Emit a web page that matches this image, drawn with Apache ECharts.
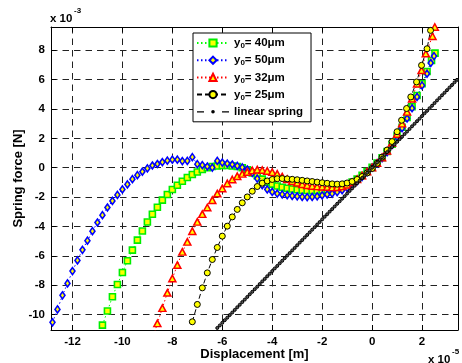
<!DOCTYPE html>
<html>
<head>
<meta charset="utf-8">
<script src="https://cdn.jsdelivr.net/npm/echarts@6/dist/echarts.min.js"></script>
<style>
  html, body { margin: 0; padding: 0; background: #fff; overflow: hidden; }
  #chart { width: 462px; height: 363px; }
</style>
</head>
<body>
<div id="chart"></div>
<script>
// Displacement is given in units of 1e-5 m, spring force in units of 1e-3 N.
const legendNames = ['y0= 40μm', 'y0= 50μm', 'y0= 32μm', 'y0= 25μm', 'linear spring'];

// [displacement, force] samples for each gap y0
const gap40 = [
  [-10.8,-10.72],[-10.6,-9.76],[-10.4,-8.79],[-10.2,-7.95],[-10.0,-7.13],[-9.8,-6.34],[-9.6,-5.61],
  [-9.4,-4.93],[-9.2,-4.31],[-9.0,-3.70],[-8.8,-3.17],[-8.6,-2.69],[-8.4,-2.21],[-8.2,-1.82],
  [-8.0,-1.48],[-7.8,-1.19],[-7.6,-0.92],[-7.4,-0.67],[-7.2,-0.46],[-7.0,-0.29],[-6.8,-0.12],
  [-6.6,0.0],[-6.4,0.08],[-6.2,0.12],[-6.0,0.15],[-5.8,0.15],[-5.6,0.12],[-5.4,0.08],[-5.2,0.0],
  [-5.0,-0.15],[-4.8,-0.35],[-4.6,-0.55],[-4.4,-0.78],[-4.2,-0.98],[-4.0,-1.12],[-3.8,-1.25],
  [-3.6,-1.33],[-3.4,-1.40],[-3.2,-1.45],[-3.0,-1.50],[-2.8,-1.53],[-2.6,-1.55],[-2.4,-1.56],
  [-2.2,-1.55],[-2.0,-1.53],[-1.8,-1.50],[-1.6,-1.45],[-1.4,-1.38],[-1.2,-1.28],[-1.0,-1.15],
  [-0.8,-0.98],[-0.6,-0.77],[-0.4,-0.52],[-0.2,-0.26],[0.0,0.02],[0.2,0.32],[0.4,0.68],[0.6,1.10],
  [0.8,1.60],[1.0,2.15],[1.2,2.75],[1.4,3.42],[1.6,4.15],[1.8,4.92],[2.0,5.72],[2.2,6.55],
  [2.38,7.30],[2.52,7.80]
];

const gap50 = [
  [-12.8,-10.53],[-12.6,-9.65],[-12.4,-8.69],[-12.2,-7.88],[-12.0,-7.04],[-11.8,-6.31],[-11.6,-5.59],
  [-11.4,-4.97],[-11.2,-4.32],[-11.0,-3.73],[-10.8,-3.23],[-10.6,-2.71],[-10.4,-2.26],[-10.2,-1.85],
  [-10.0,-1.48],[-9.8,-1.14],[-9.6,-0.78],[-9.4,-0.51],[-9.2,-0.27],[-9.0,-0.05],[-8.8,0.15],
  [-8.6,0.25],[-8.4,0.38],[-8.2,0.48],[-8.0,0.55],[-7.8,0.55],[-7.6,0.45],[-7.4,0.46],[-7.2,0.72],
  [-7.0,0.24],[-6.8,0.18],[-6.6,0.08],[-6.4,0.01],[-6.2,0.46],[-6.0,0.35],[-5.8,0.28],[-5.6,0.22],
  [-5.4,0.12],[-5.2,0.02],[-5.0,-0.12],[-4.8,-0.35],[-4.6,-0.74],[-4.4,-1.19],[-4.2,-1.48],
  [-4.0,-1.65],[-3.8,-1.76],[-3.6,-1.82],[-3.4,-1.87],[-3.2,-1.92],[-3.0,-1.95],[-2.8,-1.99],
  [-2.6,-2.00],[-2.4,-1.99],[-2.2,-1.95],[-2.0,-1.88],[-1.8,-1.82],[-1.6,-1.76],[-1.4,-1.66],
  [-1.2,-1.53],[-1.0,-1.38],[-0.8,-1.17],[-0.6,-0.92],[-0.4,-0.62],[-0.2,-0.30],[0.0,0.0],
  [0.2,0.30],[0.4,0.65],[0.6,1.05],[0.8,1.55],[1.0,2.10],[1.2,2.70],[1.4,3.35],[1.6,4.05],
  [1.8,4.82],[2.0,5.60],[2.2,6.40],[2.35,7.13],[2.48,7.60]
];

const gap32 = [
  [-8.8,-11.70],[-8.6,-10.60],[-8.4,-9.56],[-8.2,-8.52],[-8.0,-7.54],[-7.8,-6.63],[-7.6,-5.73],
  [-7.4,-5.05],[-7.2,-4.32],[-7.0,-3.69],[-6.8,-3.16],[-6.6,-2.71],[-6.4,-2.21],[-6.2,-1.76],
  [-6.0,-1.41],[-5.8,-1.07],[-5.6,-0.80],[-5.4,-0.58],[-5.2,-0.42],[-5.0,-0.29],[-4.8,-0.18],
  [-4.6,-0.13],[-4.4,-0.16],[-4.2,-0.22],[-4.0,-0.30],[-3.8,-0.42],[-3.6,-0.60],[-3.4,-0.78],
  [-3.2,-0.92],[-3.0,-1.03],[-2.8,-1.12],[-2.6,-1.19],[-2.4,-1.24],[-2.2,-1.27],[-2.0,-1.30],
  [-1.8,-1.32],[-1.6,-1.34],[-1.4,-1.33],[-1.2,-1.27],[-1.0,-1.16],[-0.8,-0.99],[-0.6,-0.78],
  [-0.4,-0.53],[-0.2,-0.26],[0.0,0.02],[0.2,0.32],[0.4,0.70],[0.6,1.15],[0.8,1.70],[1.0,2.30],
  [1.2,3.00],[1.4,3.80],[1.6,4.70],[1.8,5.72],[1.98,6.63],[2.15,7.77],[2.42,8.95],[2.51,9.58]
];

const gap25 = [
  [-7.2,-10.49],[-7.0,-9.31],[-6.8,-8.18],[-6.6,-7.16],[-6.4,-6.25],[-6.2,-5.43],[-6.0,-4.66],
  [-5.8,-3.98],[-5.6,-3.35],[-5.4,-2.84],[-5.2,-2.39],[-5.0,-1.99],[-4.8,-1.60],[-4.6,-1.28],
  [-4.4,-1.05],[-4.2,-0.90],[-4.0,-0.80],[-3.8,-0.75],[-3.6,-0.74],[-3.4,-0.76],[-3.2,-0.79],
  [-3.0,-0.82],[-2.8,-0.86],[-2.6,-0.90],[-2.4,-0.94],[-2.2,-0.98],[-2.0,-1.02],[-1.8,-1.06],
  [-1.6,-1.10],[-1.4,-1.12],[-1.2,-1.10],[-1.0,-1.04],[-0.8,-0.94],[-0.6,-0.80],[-0.4,-0.60],
  [-0.2,-0.36],[0.0,-0.05],[0.2,0.30],[0.4,0.72],[0.6,1.20],[0.8,1.78],[1.0,2.45],[1.18,3.23],
  [1.38,4.03],[1.55,4.82],[1.78,5.84],[1.98,6.97],[2.2,8.10],[2.34,9.35]
];

// Reference linear spring (stiffness about 176 N/m)
const linearSpring = [
  [-6.4,-11.26],[-6.3,-11.09],[-6.2,-10.91],[-6.1,-10.74],[-6.0,-10.56],[-5.9,-10.38],[-5.8,-10.21],
  [-5.7,-10.03],[-5.6,-9.86],[-5.5,-9.68],[-5.4,-9.50],[-5.3,-9.33],[-5.2,-9.15],[-5.1,-8.98],
  [-5.0,-8.80],[-4.9,-8.62],[-4.8,-8.45],[-4.7,-8.27],[-4.6,-8.10],[-4.5,-7.92],[-4.4,-7.74],
  [-4.3,-7.57],[-4.2,-7.39],[-4.1,-7.22],[-4.0,-7.04],[-3.9,-6.86],[-3.8,-6.69],[-3.7,-6.51],
  [-3.6,-6.34],[-3.5,-6.16],[-3.4,-5.98],[-3.3,-5.81],[-3.2,-5.63],[-3.1,-5.46],[-3.0,-5.28],
  [-2.9,-5.10],[-2.8,-4.93],[-2.7,-4.75],[-2.6,-4.58],[-2.5,-4.40],[-2.4,-4.22],[-2.3,-4.05],
  [-2.2,-3.87],[-2.1,-3.70],[-2.0,-3.52],[-1.9,-3.34],[-1.8,-3.17],[-1.7,-2.99],[-1.6,-2.82],
  [-1.5,-2.64],[-1.4,-2.46],[-1.3,-2.29],[-1.2,-2.11],[-1.1,-1.94],[-1.0,-1.76],[-0.9,-1.58],
  [-0.8,-1.41],[-0.7,-1.23],[-0.6,-1.06],[-0.5,-0.88],[-0.4,-0.70],[-0.3,-0.53],[-0.2,-0.35],
  [-0.1,-0.18],[0.0,0.0],[0.1,0.18],[0.2,0.35],[0.3,0.53],[0.4,0.70],[0.5,0.88],[0.6,1.06],
  [0.7,1.23],[0.8,1.41],[0.9,1.58],[1.0,1.76],[1.1,1.94],[1.2,2.11],[1.3,2.29],[1.4,2.46],
  [1.5,2.64],[1.6,2.82],[1.7,2.99],[1.8,3.17],[1.9,3.34],[2.0,3.52],[2.1,3.70],[2.2,3.87],
  [2.3,4.05],[2.4,4.22],[2.5,4.40],[2.6,4.58],[2.7,4.75],[2.8,4.93],[2.9,5.10],[3.0,5.28],
  [3.1,5.46],[3.2,5.63],[3.3,5.81],[3.4,5.98]
];

const xRange = [-12.86, 3.44];
const yRange = [-11.05, 9.58];

const FONT = "'Liberation Sans', Arial, Helvetica, sans-serif";
const YELLOW = '#ffff00';

function evenOnly(v) {
  return Math.abs(v / 2 - Math.round(v / 2)) < 1e-6 ? String(Math.round(v)) : '';
}

function curve(name, data, color, dash, symbol, size, edge, edgeWidth) {
  return {
    name: name, type: 'line', data: data,
    symbol: symbol, symbolSize: size, showSymbol: true, clip: true,
    lineStyle: { color: color, width: 1, type: dash },
    itemStyle: { color: YELLOW, borderColor: edge, borderWidth: edgeWidth },
    emphasis: { disabled: true },
    animation: false
  };
}

function gridAxis(pos, range, split, primary) {
  return {
    type: 'value', position: pos, min: range[0], max: range[1],
    splitNumber: split, minInterval: 2, maxInterval: 2,
    axisLine: { show: true, onZero: false, lineStyle: { color: '#000', width: 1 } },
    axisTick: { show: true, inside: true, length: 5, lineStyle: { color: '#000' } },
    axisLabel: { show: primary, formatter: evenOnly, color: '#000',
      fontFamily: FONT, fontWeight: 'bold', fontSize: 11.5, margin: 6 },
    splitLine: { show: primary, lineStyle: { color: '#222', width: 1, type: [6.5, 5] } }
  };
}

const chart = echarts.init(document.getElementById('chart'), null, { renderer: 'canvas' });

const xMain = gridAxis('bottom', xRange, 8, true);
xMain.name = 'Displacement [m]';
xMain.nameLocation = 'middle';
xMain.nameGap = 18;
xMain.nameMoveOverlap = false;
xMain.nameTextStyle = { fontFamily: FONT, fontWeight: 'bold', fontSize: 13, color: '#000' };

const yMain = gridAxis('left', yRange, 10, true);
yMain.name = 'Spring force [N]';
yMain.nameLocation = 'middle';
yMain.nameGap = 26;
yMain.nameMoveOverlap = false;
yMain.nameTextStyle = { fontFamily: FONT, fontWeight: 'bold', fontSize: 13, color: '#000' };

chart.setOption({
  animation: false,
  backgroundColor: '#fff',
  grid: { left: 51, right: 4, top: 27, bottom: 33, containLabel: false, outerBoundsMode: 'none' },
  xAxis: [xMain, gridAxis('top', xRange, 8, false)],
  yAxis: [yMain, gridAxis('right', yRange, 10, false)],
  legend: {
    data: [
      legendNames[0], legendNames[1], legendNames[2], legendNames[3],
      { name: legendNames[4],
        icon: 'path://M0,0.9h7v1.2h-7z M25,0.9h7v1.2h-7z M14.2,1.5a1.8,1.8 0 1,0 3.6,0a1.8,1.8 0 1,0 -3.6,0z',
        itemStyle: { color: '#000', borderWidth: 0 } }
    ],
    orient: 'vertical', left: 193, top: 33,
    itemWidth: 32, itemHeight: 9, itemGap: 4.2,
    padding: [4, 8, 4, 3],
    backgroundColor: '#fff', borderColor: '#000', borderWidth: 1, borderRadius: 0,
    selectedMode: false,
    formatter: function (n) {
      if (n.indexOf('y0') === 0) return '{a|y}{s|0}{a|' + n.slice(2) + '}';
      return '{a|' + n + '}';
    },
    textStyle: {
      color: '#000', fontFamily: FONT, fontWeight: 'bold', fontSize: 11.5,
      rich: {
        a: { fontFamily: FONT, fontWeight: 'bold', fontSize: 11.5, color: '#000', lineHeight: 14 },
        s: { fontFamily: FONT, fontWeight: 'bold', fontSize: 8, color: '#000', lineHeight: 14,
             verticalAlign: 'bottom' }
      }
    }
  },
  graphic: [
    { type: 'text', left: 50, top: 13,
      style: { text: 'x 10', font: 'bold 11.5px ' + FONT, fill: '#000' } },
    { type: 'text', left: 74, top: 7,
      style: { text: '-3', font: 'bold 8px ' + FONT, fill: '#000' } },
    { type: 'text', left: 428, top: 354,
      style: { text: 'x 10', font: 'bold 11.5px ' + FONT, fill: '#000' } },
    { type: 'text', left: 452, top: 348,
      style: { text: '-5', font: 'bold 8px ' + FONT, fill: '#000' } }
  ],
  series: [
    curve(legendNames[0], gap40, '#00ff00', [1.5, 2.5], 'rect', 6, '#00ee00', 1.6),
    curve(legendNames[1], gap50, '#0000ff', [1.5, 2.5], 'diamond', [5, 7], '#0000ff', 1.6),
    curve(legendNames[2], gap32, '#ff0000', [1.5, 2.5], 'triangle', [7, 6.5], '#ff0000', 1.5),
    curve(legendNames[3], gap25, '#000000', [5, 3], 'circle', 6, '#000000', 1),
    {
      name: legendNames[4], type: 'line', data: linearSpring,
      symbol: 'circle', symbolSize: 3, showSymbol: true, clip: true,
      lineStyle: { color: '#000', width: 1, type: [4, 3] },
      itemStyle: { color: '#555', borderColor: '#000', borderWidth: 1 },
      emphasis: { disabled: true }, animation: false
    }
  ]
});
</script>
</body>
</html>
